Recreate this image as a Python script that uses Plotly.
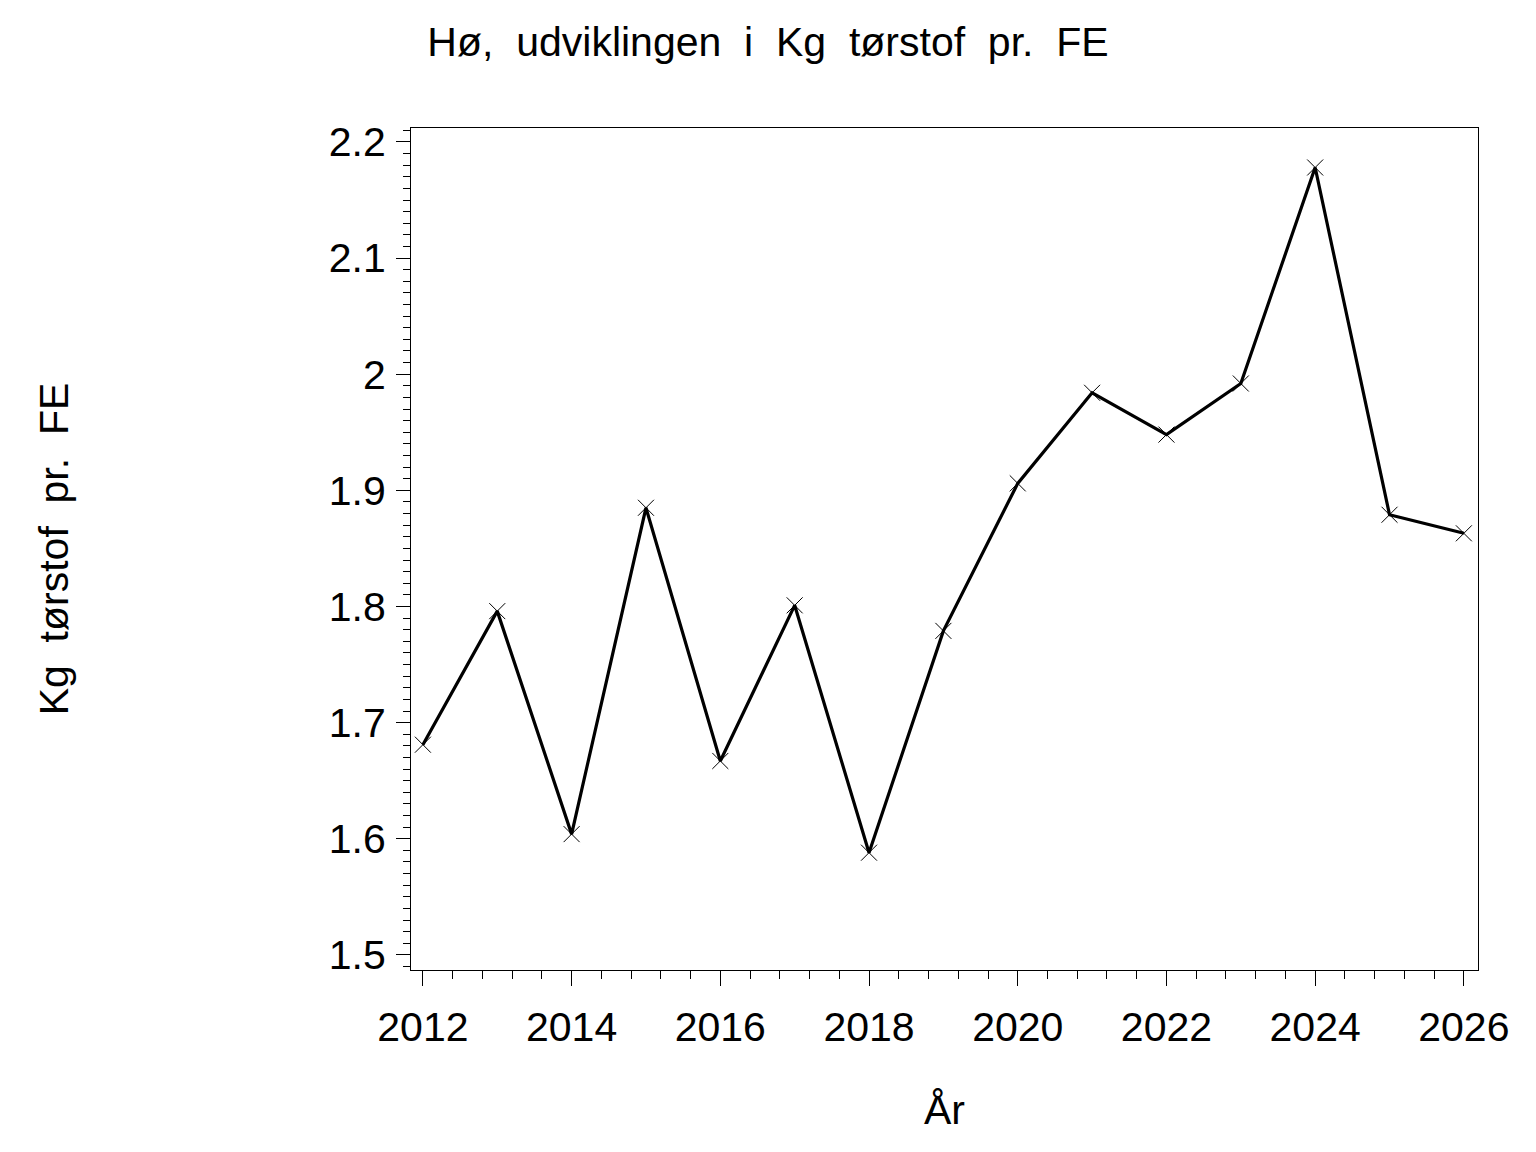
import plotly.graph_objects as go

# yearly values
years = [2012, 2013, 2014, 2015, 2016, 2017, 2018, 2019,
         2020, 2021, 2022, 2023, 2024, 2025, 2026]
kg_ts_pr_fe = [1.681, 1.796, 1.604, 1.885, 1.667, 1.801, 1.588, 1.779,
               1.906, 1.984, 1.948, 1.992, 2.178, 1.879, 1.863]

x_ticks = [2012, 2014, 2016, 2018, 2020, 2022, 2024, 2026]
y_ticks = [1.5, 1.6, 1.7, 1.8, 1.9, 2.0, 2.1, 2.2]
y_tick_labels = ["1.5", "1.6", "1.7", "1.8", "1.9", "2", "2.1", "2.2"]

FONT = "Liberation Sans, Arial"

fig = go.Figure()
fig.add_trace(go.Scatter(
    x=years, y=kg_ts_pr_fe,
    mode="lines+markers",
    line=dict(color="black", width=3.2),
    marker=dict(symbol="x-thin", size=16, line=dict(color="black", width=1)),
    showlegend=False,
))

axis_common = dict(
    showline=True, linecolor="black", linewidth=1, mirror=True,
    showgrid=False, zeroline=False,
    ticks="outside", tickcolor="black", tickwidth=1,
    tickfont=dict(family=FONT, size=41, color="black"),
    automargin=False,
)

fig.update_xaxes(
    range=[2011.84, 2026.19],
    tickvals=x_ticks, ticklen=15,
    minor=dict(dtick=0.4, tick0=2012, ticks="outside", ticklen=8,
               tickcolor="black", tickwidth=1, showgrid=False),
    ticklabelstandoff=6,
    title=dict(text="År", font=dict(family=FONT, size=41, color="black"),
               standoff=46),
    **axis_common,
)
fig.update_yaxes(
    range=[1.487, 2.212],
    tickvals=y_ticks, ticktext=y_tick_labels, ticklen=14,
    minor=dict(dtick=0.01, tick0=1.5, ticks="outside", ticklen=7,
               tickcolor="black", tickwidth=1, showgrid=False),
    ticklabelstandoff=2,
    title=dict(text="Kg  tørstof  pr.  FE",
               font=dict(family=FONT, size=41, color="black"),
               standoff=247),
    **axis_common,
)

# page body adds an 8 px offset, so margins are shifted to land on the reference frame
fig.update_layout(
    width=1536, height=1152,
    paper_bgcolor="white", plot_bgcolor="white",
    margin=dict(l=403, r=66, t=120, b=190),
    title=dict(text="Hø,  udviklingen  i  Kg  tørstof  pr.  FE",
               x=760 / 1536, xref="container", xanchor="center",
               y=1 - 34 / 1152, yref="container", yanchor="middle",
               font=dict(family=FONT, size=41, color="black")),
)

fig.write_html("out.html")
